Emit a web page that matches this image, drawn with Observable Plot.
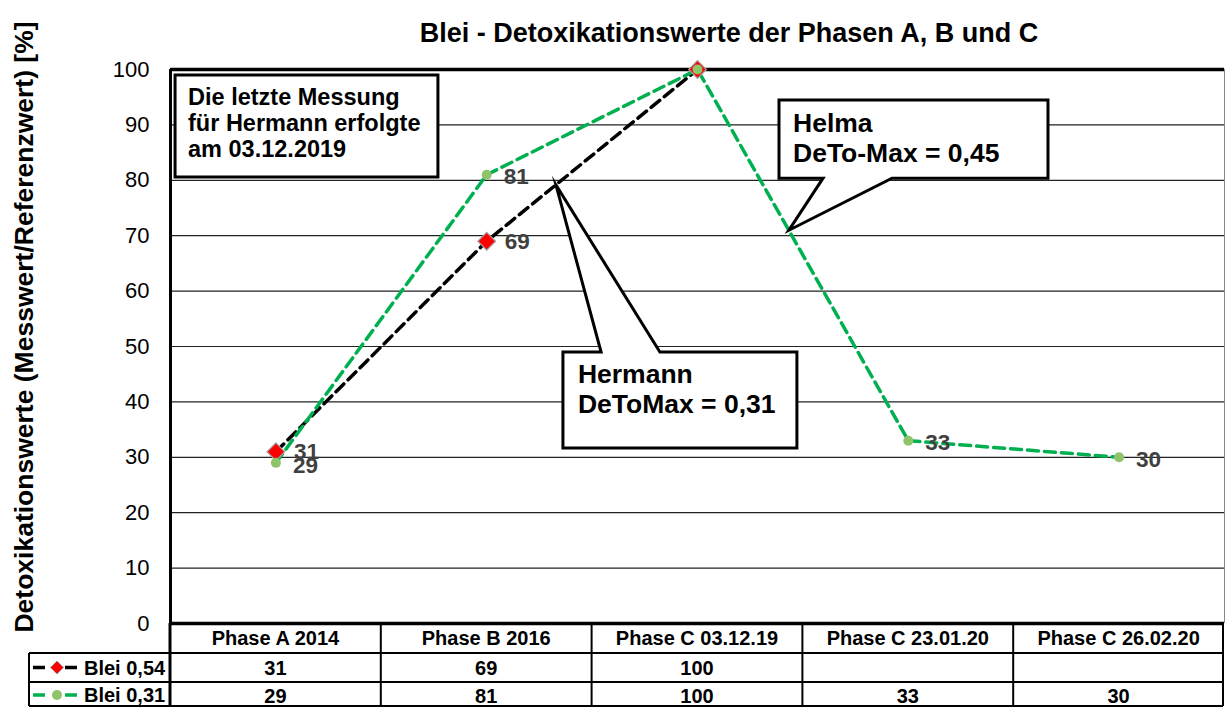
<!DOCTYPE html>
<html>
<head>
<meta charset="utf-8">
<script src="https://cdn.jsdelivr.net/npm/d3@7"></script>
<script src="https://cdn.jsdelivr.net/npm/@observablehq/plot@0.6"></script>
<style>
  html, body { margin: 0; padding: 0; background: #fff; }
  #chart svg { display: block; }
</style>
</head>
<body>
<div id="chart"></div>
<script>
// ---------- data ----------
const categories = ["Phase A 2014", "Phase B 2016", "Phase C 03.12.19", "Phase C 23.01.20", "Phase C 26.02.20"];
const seriesLabels = ["Blei 0,54", "Blei 0,31"];
const blei054 = [31, 69, 100, null, null];
const blei031 = [29, 81, 100, 33, 30];
const yTicks = [0, 10, 20, 30, 40, 50, 60, 70, 80, 90, 100];
const titleText = "Blei - Detoxikationswerte der Phasen A, B und C";
const yLabelText = "Detoxikationswerte (Messwert/Referenzwert) [%]";
const noteLines = ["Die letzte Messung", "für Hermann erfolgte", "am 03.12.2019"];
const helmaLines = ["Helma", "DeTo-Max = 0,45"];
const hermannLines = ["Hermann", "DeToMax = 0,31"];

// annotation geometry in data units (x = category index, y = percent)
const noteBox = {x0: -0.476, x1: 0.771, y0: 98.9, y1: 80.5};
const helmaBox = {x0: 2.389, x1: 3.665, y0: 94.4, y1: 80.3, b0: 2.598, b1: 2.925, tip: [2.436, 70.9], side: "bottom"};
const hermannBox = {x0: 1.364, x1: 2.474, y0: 48.9, y1: 31.6, b0: 1.545, b1: 1.824, tip: [1.331, 79.06], side: "top"};

// ---------- styles ----------
const FONT = "'Liberation Sans', Arial, sans-serif";
const BLACK_LINE = "#000000";
const GREEN_LINE = "#00B050";
const GREEN_DOT = "#8fc46a";
const RED = "#ff0000";
const LABEL_GREY = "#404040";
const DASH = "11,6";

const s1 = categories.map((c, i) => ({i, c, v: blei054[i]})).filter(d => d.v != null);
const s2 = categories.map((c, i) => ({i, c, v: blei031[i]})).filter(d => d.v != null);

function overlay(index, scales, values, dim) {
  const x = scales.x, y = scales.y;
  const g = d3.create("svg:g").attr("font-family", FONT).attr("text-anchor", "start");

  // callouts
  function callout(c, lines, fs, padX, base0, lh) {
    const X0 = x(c.x0), X1 = x(c.x1), Y0 = y(c.y0), Y1 = y(c.y1);
    let d;
    if (!c.side) {
      d = `M${X0},${Y0}H${X1}V${Y1}H${X0}Z`;
    } else {
      const B0 = x(c.b0), B1 = x(c.b1), TX = x(c.tip[0]), TY = y(c.tip[1]);
      if (c.side === "top") {
        d = `M${X0},${Y0}L${B0},${Y0}L${TX},${TY}L${B1},${Y0}L${X1},${Y0}L${X1},${Y1}L${X0},${Y1}Z`;
      } else {
        d = `M${X0},${Y0}L${X1},${Y0}L${X1},${Y1}L${B1},${Y1}L${TX},${TY}L${B0},${Y1}L${X0},${Y1}Z`;
      }
    }
    g.append("path").attr("d", d).attr("fill", "white").attr("stroke", "black")
      .attr("stroke-width", 3).attr("stroke-linejoin", "miter").attr("stroke-miterlimit", 10);
    lines.forEach((t, k) => {
      g.append("text").attr("x", X0 + padX).attr("y", Y0 + base0 + k * lh).attr("text-anchor", "start")
        .attr("font-size", fs).attr("font-weight", "bold").attr("fill", "#000").text(t);
    });
  }
  callout(noteBox, noteLines, 23.5, 13, 30, 26);
  callout(helmaBox, helmaLines, 26.5, 14, 32, 30);
  callout(hermannBox, hermannLines, 26.5, 15, 31, 30);

  // title
  g.append("text").attr("x", 729).attr("y", 42).attr("text-anchor", "middle")
    .attr("font-size", 27).attr("font-weight", "bold").attr("fill", "#000").text(titleText);

  // y label
  g.append("text").attr("transform", "translate(33,327) rotate(-90)").attr("text-anchor", "middle")
    .attr("font-size", 26.5).attr("font-weight", "bold").attr("fill", "#000").text(yLabelText);

  // data table
  const top = dim.height - dim.marginBottom;
  const rowY = [top, top + 30, top + 59, dim.height - 1];
  const legendLeft = 29;
  const right = x(categories.length - 0.5) - 1;
  const tg = g.append("g").attr("stroke", "#000").attr("stroke-width", 2);
  tg.append("line").attr("x1", legendLeft).attr("x2", right).attr("y1", rowY[1]).attr("y2", rowY[1]);
  tg.append("line").attr("x1", legendLeft).attr("x2", right).attr("y1", rowY[2]).attr("y2", rowY[2]);
  tg.append("line").attr("x1", legendLeft).attr("x2", right).attr("y1", rowY[3]).attr("y2", rowY[3]);
  tg.append("line").attr("x1", legendLeft).attr("x2", legendLeft).attr("y1", rowY[1]).attr("y2", rowY[3]);
  for (let i = 0; i <= categories.length; i++) {
    const bx = i === categories.length ? right : x(i - 0.5);
    tg.append("line").attr("x1", bx).attr("x2", bx).attr("y1", top).attr("y2", rowY[3])
      .attr("stroke-width", i === 0 ? 3 : 2);
  }
  categories.forEach((c, i) => {
    g.append("text").attr("x", x(i)).attr("y", top + 22).attr("text-anchor", "middle")
      .attr("font-size", 20).attr("font-weight", "bold").attr("fill", "#000").text(c);
  });
  [blei054, blei031].forEach((arr, r) => {
    arr.forEach((v, i) => {
      if (v == null) return;
      g.append("text").attr("x", x(i)).attr("y", top + 52 + r * 28).attr("text-anchor", "middle")
        .attr("font-size", 20).attr("font-weight", "bold").attr("fill", "#000").text(v);
    });
  });
  // legend cells
  const legendCY = [top + 44.5, top + 72];
  [BLACK_LINE, GREEN_LINE].forEach((col, r) => {
    const cy = legendCY[r];
    g.append("line").attr("x1", 33).attr("x2", 77).attr("y1", cy).attr("y2", cy)
      .attr("stroke", col).attr("stroke-width", 3.5).attr("stroke-dasharray", "12,20");
    if (r === 0) {
      g.append("path").attr("d", d3.symbol(d3.symbolDiamond2, 110)())
        .attr("transform", `translate(57,${cy})`).attr("fill", RED).attr("stroke", "#a0a0a0").attr("stroke-width", 1);
    } else {
      g.append("circle").attr("cx", 57).attr("cy", cy).attr("r", 5).attr("fill", GREEN_DOT);
    }
    g.append("text").attr("x", 84).attr("y", cy + 7).attr("text-anchor", "start").attr("font-size", 20).attr("font-weight", "bold")
      .attr("fill", "#000").text(seriesLabels[r]);
  });
  return g.node();
}

const plot = Plot.plot({
  width: 1225,
  height: 707,
  marginLeft: 170,
  marginRight: 1,
  marginTop: 69,
  marginBottom: 84,
  style: {fontFamily: FONT, background: "white", overflow: "visible"},
  x: {type: "linear", domain: [-0.5, categories.length - 0.5], axis: null},
  y: {domain: [0, 100]},
  marks: [
    Plot.ruleY(yTicks.filter(t => t > 0 && t < 100), {stroke: "#222", strokeWidth: 1.2}),
    Plot.axisY({ticks: yTicks, tickSize: 0, tickPadding: 21, fontSize: 22, fill: "#000", label: null, tickFormat: d => String(d)}),
    Plot.line(s1, {x: "i", y: "v", stroke: BLACK_LINE, strokeWidth: 3.5, strokeDasharray: DASH}),
    Plot.line(s2, {x: "i", y: "v", stroke: GREEN_LINE, strokeWidth: 3.5, strokeDasharray: DASH}),
    Plot.ruleY([100], {stroke: "#000", strokeWidth: 3.5}),
    Plot.ruleY([0], {stroke: "#000", strokeWidth: 3.5}),
    Plot.ruleX([-0.5], {stroke: "#000", strokeWidth: 3}),
    Plot.ruleX([categories.length - 0.5], {stroke: "#888", strokeWidth: 1}),
    Plot.dot(s1, {x: "i", y: "v", symbol: "diamond2", r: 8, fill: RED, stroke: "#a0a0a0", strokeWidth: 1.2}),
    Plot.dot(s2, {x: "i", y: "v", r: 5, fill: GREEN_DOT, stroke: "none"}),
    Plot.text(s1.filter(d => d.v < 100), {x: "i", y: "v", text: d => String(d.v), dx: 18, dy: 0.5, textAnchor: "start", fontSize: 22.5, fontWeight: "bold", fill: LABEL_GREY}),
    Plot.text(s2.filter(d => d.v < 100), {x: "i", y: "v", text: d => String(d.v), dx: 17, dy: 2.5, textAnchor: "start", fontSize: 22.5, fontWeight: "bold", fill: LABEL_GREY}),
    overlay
  ]
});
document.getElementById("chart").appendChild(plot);
</script>
</body>
</html>
